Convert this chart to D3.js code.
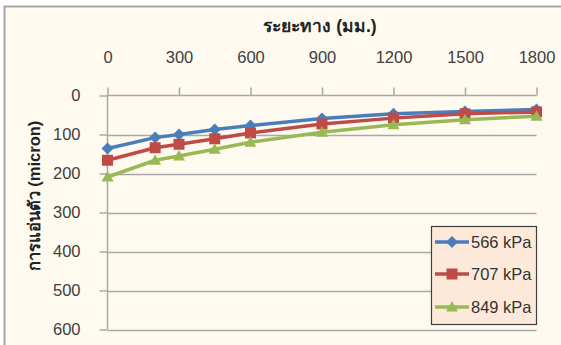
<!DOCTYPE html>
<html>
<head>
<meta charset="utf-8">
<script src="https://cdn.jsdelivr.net/npm/d3@7/dist/d3.min.js"></script>
<style>
  html, body { margin: 0; padding: 0; background: #fff; }
  svg { display: block; }
  text { font-family: "Liberation Sans", Arial, "Noto Sans", sans-serif; }
</style>
</head>
<body>
<svg id="chart" width="561" height="345"></svg>
<script>
// Distance along the pavement (mm)
const distances = [0, 200, 300, 450, 600, 900, 1200, 1500, 1800];
// Deflection (micron) for each load level
const deflection566 = [136, 108, 100, 87, 77, 59, 47, 41, 36];
const deflection707 = [166, 134, 125, 111, 96, 73, 58, 47, 42];
const deflection849 = [209, 166, 155, 138, 120, 94, 75, 62, 53];
const seriesNames = ["566 kPa", "707 kPa", "849 kPa"];
const xTicks = [0, 300, 600, 900, 1200, 1500, 1800];
const yTicks = [0, 100, 200, 300, 400, 500, 600];
const xTitle = "ระยะทาง (มม.)";
const yTitle = "การแอ่นตัว (micron)";

const series = [
  { name: seriesNames[0], values: deflection566, color: "#4A7EBB", marker: "diamond" },
  { name: seriesNames[1], values: deflection707, color: "#BE4B48", marker: "square" },
  { name: seriesNames[2], values: deflection849, color: "#98B954", marker: "triangle" }
];

const svg = d3.select("#chart");

// chart area background and border
svg.append("rect")
  .attr("x", 4.5).attr("y", 6.5)
  .attr("width", 600).attr("height", 400)
  .attr("fill", "#FEFAEF")
  .attr("stroke", "#A6A6A6")
  .attr("stroke-width", 2);

const x = d3.scaleLinear().domain([0, 1800]).range([107.5, 536.5]);
const y = d3.scaleLinear().domain([0, 600]).range([95.5, 329.5]);

const gridColor = "#A8A8A8";
const labelColor = "#404040";

// horizontal gridlines
svg.append("g")
  .selectAll("line")
  .data(yTicks.filter(d => d > 0))
  .join("line")
  .attr("x1", x(0)).attr("x2", x(1800))
  .attr("y1", d => Math.round(y(d)) + 0.5).attr("y2", d => Math.round(y(d)) + 0.5)
  .attr("stroke", gridColor).attr("stroke-width", 1.5);

// y axis (left), reversed so 0 is at the top
const yAxis = d3.axisLeft(y).tickValues(yTicks).tickSize(8).tickPadding(19)
  .tickFormat(d3.format("d"));
const gy = svg.append("g").attr("transform", `translate(${x(0)},0)`).call(yAxis);
gy.select(".domain").attr("stroke", gridColor).attr("stroke-width", 1.5)
  .attr("d", `M0,${y(0)}V${y(600)}`);
gy.selectAll(".tick line").attr("stroke", gridColor).attr("stroke-width", 1.5);
gy.selectAll(".tick text").attr("fill", labelColor).style("font-size", "16.5px");

// x axis along the top
const xAxis = d3.axisTop(x).tickValues(xTicks).tickSize(8).tickPadding(24.5)
  .tickFormat(d3.format("d"));
const gx = svg.append("g").attr("transform", `translate(0,${y(0)})`).call(xAxis);
gx.select(".domain").attr("stroke", gridColor).attr("stroke-width", 1.5)
  .attr("d", `M${x(0)},0H${x(1800)}`);
gx.selectAll(".tick line").attr("stroke", gridColor).attr("stroke-width", 1.5);
gx.selectAll(".tick text").attr("fill", labelColor).style("font-size", "16.5px");

// axis titles
svg.append("text")
  .attr("x", 320).attr("y", 32)
  .attr("text-anchor", "middle")
  .attr("fill", "#222")
  .style("font-size", "17.5px").style("font-weight", "bold")
  .text(xTitle);

svg.append("text")
  .attr("transform", "translate(40,196) rotate(-90)")
  .attr("text-anchor", "middle")
  .attr("fill", "#222")
  .style("font-size", "16.5px").style("font-weight", "bold")
  .text(yTitle);

// marker shapes
function markerPath(type) {
  if (type === "diamond") return "M0,-6L6,0L0,6L-6,0Z";
  if (type === "square") return "M-5.5,-5.5H5.5V5.5H-5.5Z";
  return "M0,-6L6,4.5L-6,4.5Z";
}

const line = d3.line().x(d => x(d[0])).y(d => y(d[1]));

series.forEach(s => {
  const pts = distances.map((d, i) => [d, s.values[i]]);
  const g = svg.append("g");
  g.append("path")
    .attr("d", line(pts))
    .attr("fill", "none")
    .attr("stroke", s.color)
    .attr("stroke-width", 3.5)
    .attr("stroke-linejoin", "round");
  g.selectAll("path.m")
    .data(pts)
    .join("path")
    .attr("class", "m")
    .attr("transform", d => `translate(${x(d[0])},${y(d[1])})`)
    .attr("d", markerPath(s.marker))
    .attr("fill", s.color);
});

// legend
const legend = svg.append("g");
legend.append("rect")
  .attr("x", 431.5).attr("y", 226.5)
  .attr("width", 105).attr("height", 98)
  .attr("fill", "#FDE9DA")
  .attr("stroke", "#3F3F3F").attr("stroke-width", 1.2);
const legendY = [242, 274, 307];
series.forEach((s, i) => {
  const ly = legendY[i];
  legend.append("line")
    .attr("x1", 435).attr("x2", 469)
    .attr("y1", ly).attr("y2", ly)
    .attr("stroke", s.color).attr("stroke-width", 3.5);
  legend.append("path")
    .attr("transform", `translate(452,${ly})`)
    .attr("d", markerPath(s.marker))
    .attr("fill", s.color);
  legend.append("text")
    .attr("x", 471).attr("y", ly + 6)
    .attr("fill", "#333")
    .style("font-size", "16.5px")
    .text(s.name);
});
</script>
</body>
</html>
